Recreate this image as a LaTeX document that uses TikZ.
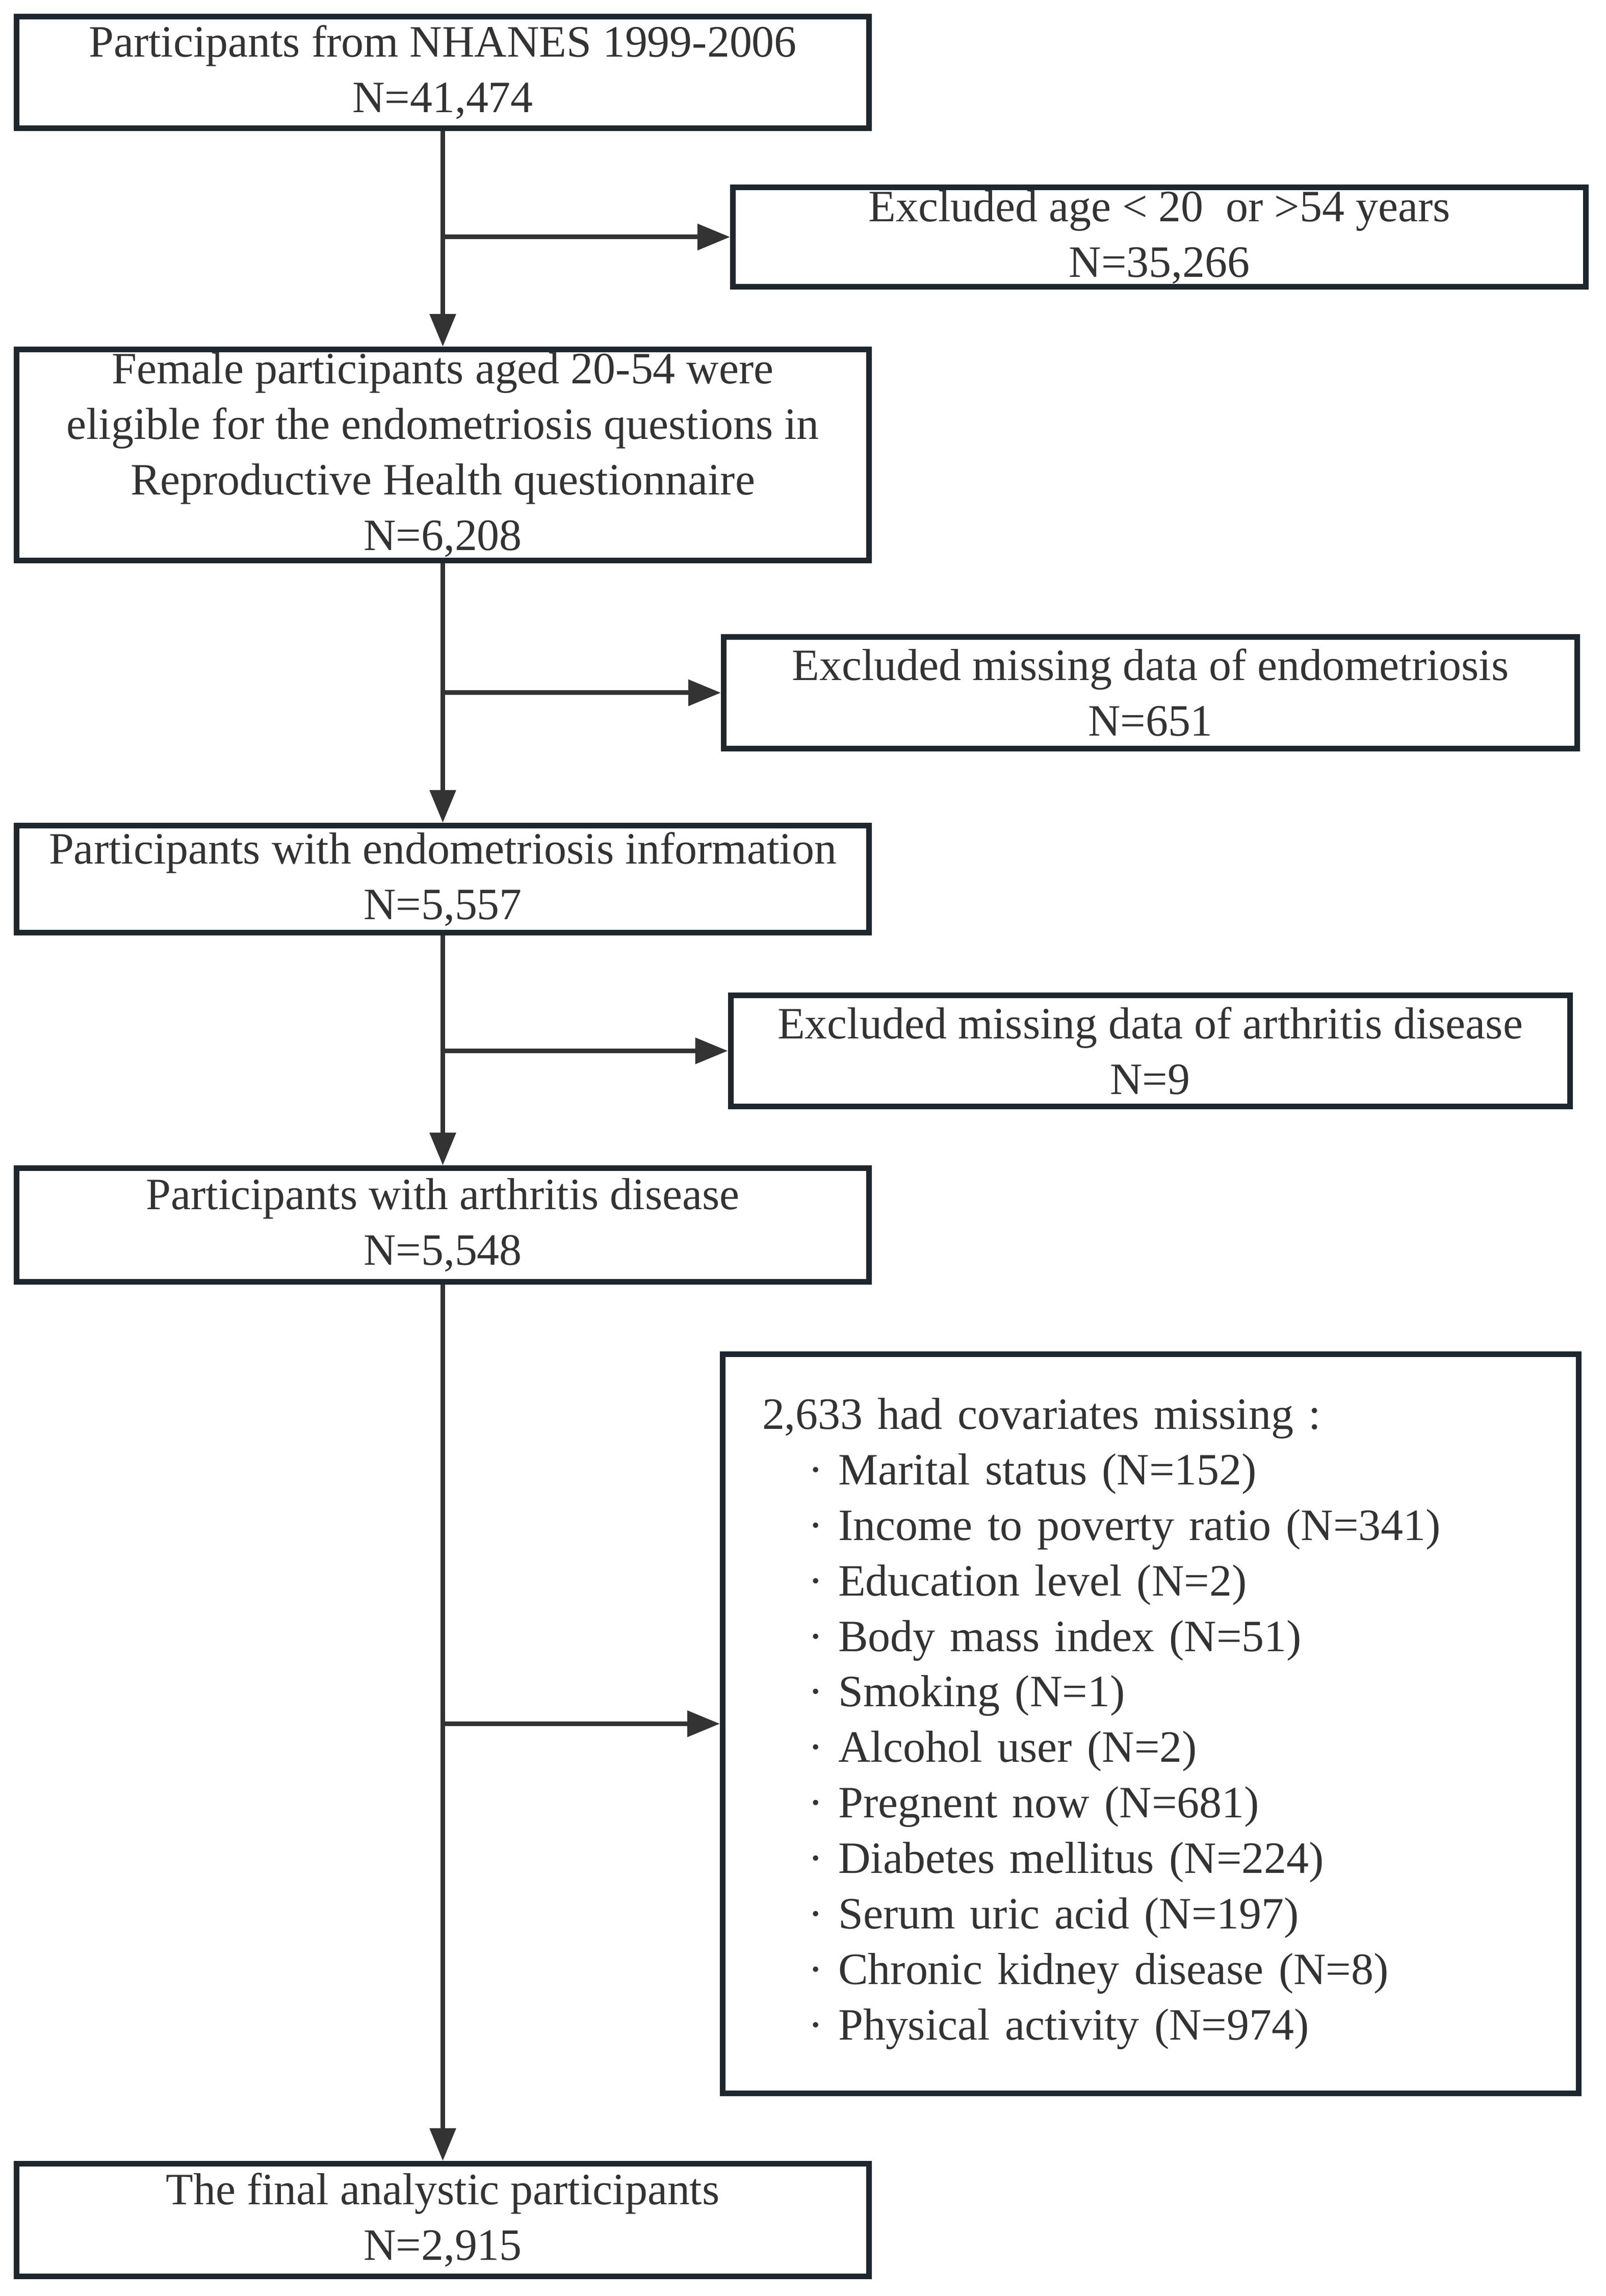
\documentclass[tikz,border=0pt]{standalone}
\usepackage{fontspec}
\setmainfont{Liberation Serif}
\usepackage{tikz}
\usetikzlibrary{positioning, arrows.meta}
\usepackage{xcolor}
\definecolor{boxline}{HTML}{1F272E}
\definecolor{flowgray}{HTML}{333333}
\newcommand{\covitem}[1]{\hspace*{0.9cm}·\hspace{0.3cm}#1}

\begin{document}
\begin{tikzpicture}[
    box/.style={draw=boxline, line width=0.11cm, text=flowgray, align=center, inner sep=0pt, font=\fontsize{25}{31}\selectfont},
    flow/.style={draw=flowgray, line width=0.09cm, -{Triangle[length=0.64cm, width=0.5cm]}}
  ]
   \useasboundingbox (0,0) rectangle (31.5,45.04);

   % main column
   \node[box, minimum width=16.72cm, minimum height=2.19cm] (nhanes) at (8.685, 43.62) {Participants from NHANES 1999-2006\\N=41,474};
   \node[box, minimum width=16.72cm, minimum height=4.14cm] (female) at (8.685, 36.115) {Female participants aged 20-54 were\\eligible for the endometriosis questions in\\Reproductive Health questionnaire\\N=6,208};
   \node[box, minimum width=16.72cm, minimum height=2.10cm] (endo) at (8.685, 27.795) {Participants with endometriosis information\\N=5,557};
   \node[box, minimum width=16.72cm, minimum height=2.23cm] (arth) at (8.685, 21.01) {Participants with arthritis disease\\N=5,548};
   \node[box, minimum width=16.72cm, minimum height=2.21cm] (final) at (8.685, 1.49) {The final analystic participants\\N=2,915};

   % exclusions
   \node[box, minimum width=16.73cm, minimum height=1.95cm] (exage) at (22.74, 40.39) {Excluded age < 20~ or >54 years\\N=35,266};
   \node[box, minimum width=16.74cm, minimum height=2.19cm] (exendo) at (22.565, 31.45) {Excluded missing data of endometriosis\\N=651};
   \node[box, minimum width=16.46cm, minimum height=2.18cm] (exarth) at (22.56, 24.425) {Excluded missing data of arthritis disease\\N=9};
   \node[box, align=left, text width=15.24cm, inner xsep=0.775cm, minimum height=14.5cm] (excov) at (22.57, 11.225) {2,633 had covariates missing :\\
      \covitem{Marital status (N=152)}\\
      \covitem{Income to poverty ratio (N=341)}\\
      \covitem{Education level (N=2)}\\
      \covitem{Body mass index (N=51)}\\
      \covitem{Smoking (N=1)}\\
      \covitem{Alcohol user (N=2)}\\
      \covitem{Pregnent now (N=681)}\\
      \covitem{Diabetes mellitus (N=224)}\\
      \covitem{Serum uric acid (N=197)}\\
      \covitem{Chronic kidney disease (N=8)}\\
      \covitem{Physical activity (N=974)}};

   % arrows
   \draw[flow] (nhanes) -- (female);
   \draw[flow] (female) -- (endo);
   \draw[flow] (endo) -- (arth);
   \draw[flow] (arth) -- (final);

   \draw[flow] (nhanes |- exage.west) -- (exage.west);
   \draw[flow] (female |- exendo.west) -- (exendo.west);
   \draw[flow] (endo |- exarth.west) -- (exarth.west);
   \draw[flow] (arth |- excov.west) -- (excov.west);
  \end{tikzpicture}
\end{document}
